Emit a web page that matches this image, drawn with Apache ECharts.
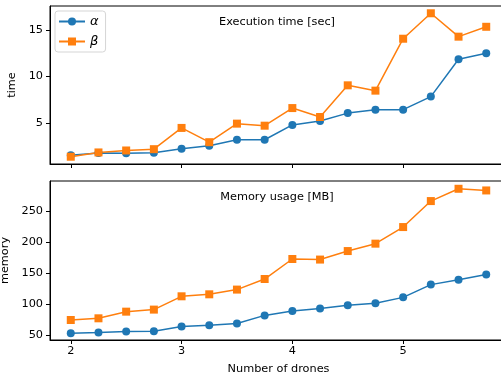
<!DOCTYPE html>
<html><head><meta charset="utf-8">
<script src="https://cdn.jsdelivr.net/npm/echarts@6/dist/echarts.min.js"></script>
<style>html,body{margin:0;padding:0;background:#fff}#c{width:501px;height:377px}</style>
</head><body><div id="c"></div>
<script>
const drones = [2, 2.25, 2.5, 2.75, 3, 3.25, 3.5, 3.75, 4, 4.25, 4.5, 4.75, 5, 5.25, 5.5, 5.75];
const timeAlpha = [1.55, 1.77, 1.76, 1.8, 2.23, 2.55, 3.19, 3.2, 4.79, 5.21, 6.06, 6.42, 6.43, 7.83, 11.84, 12.48];
const timeBeta  = [1.38, 1.84, 2.05, 2.19, 4.47, 2.94, 4.93, 4.71, 6.6, 5.64, 9.04, 8.47, 14.04, 16.77, 14.26, 15.32];
const memAlpha  = [53.2, 54.3, 55.9, 56.4, 64, 66, 68.8, 82, 89, 92.9, 98.2, 101.4, 111, 131.5, 139.5, 147.6];
const memBeta   = [74.6, 77.3, 88, 91.3, 112.7, 115.9, 123.5, 140.5, 172.7, 171.8, 185.5, 197.4, 224.1, 265.9, 285.7, 283];
const xTicks = [2, 3, 4, 5];
const timeTicks = [5, 10, 15];
const memTicks = [50, 100, 150, 200, 250];
const seriesNames = ['α', 'β'];

const blue = '#1f77b4', orange = '#ff7f0e';
const font = 'DejaVu Sans';
const fs = 11.3;
const zip = (xs, ys) => xs.map((x, i) => [x, ys[i]]);

function xAxis(idx, showLabels) {
  return {
    type: 'value', gridIndex: idx, min: 1.8125, max: 5.9375,
    axisLine: { show: true, lineStyle: { color: '#000', width: 1 } },
    axisTick: { show: true, inside: false, length: 4, customValues: xTicks, lineStyle: { color: '#000' } },
    axisLabel: { show: showLabels, customValues: xTicks, margin: 6, color: '#000', fontFamily: font, fontSize: fs },
    splitLine: { show: false },
    name: showLabels ? 'Number of drones' : '', nameLocation: 'middle', nameGap: 24,
    nameTextStyle: { color: '#000', fontFamily: font, fontSize: fs }
  };
}
function yAxis(idx, min, max, ticks, name) {
  return {
    type: 'value', gridIndex: idx, min: min, max: max,
    axisLine: { show: true, lineStyle: { color: '#000', width: 1 } },
    axisTick: { show: true, inside: false, length: 4, customValues: ticks, lineStyle: { color: '#000' } },
    axisLabel: { customValues: ticks, margin: 7, color: '#000', fontFamily: font, fontSize: fs },
    splitLine: { show: false },
    name: name, nameLocation: 'middle', nameGap: name === 'time' ? 27 : 32, nameRotate: 90,
    nameTextStyle: { color: '#000', fontFamily: font, fontSize: fs }
  };
}
function line(name, data, color, symbol, xi, yi) {
  return {
    type: 'line', name: name, data: data, xAxisIndex: xi, yAxisIndex: yi,
    symbol: symbol, symbolSize: 8,
    showAllSymbol: true,
    lineStyle: { color: color, width: 1.5 },
    itemStyle: { color: color, borderWidth: 0 },
    emphasis: { disabled: true }, animation: false
  };
}

const chart = echarts.init(document.getElementById('c'), null, { renderer: 'canvas' });
chart.setOption({
  animation: false,
  title: [
    { text: 'Execution time [sec]', left: 272, top: 12, textAlign: 'center',
      textStyle: { fontFamily: font, fontSize: fs, fontWeight: 'normal', color: '#000' } },
    { text: 'Memory usage [MB]', left: 272, top: 187, textAlign: 'center',
      textStyle: { fontFamily: font, fontSize: fs, fontWeight: 'normal', color: '#000' } }
  ],
  legend: {
    data: seriesNames, orient: 'vertical', left: 55, top: 11,
    itemWidth: 26, itemHeight: 10, itemGap: 7,
    padding: [4, 7, 4, 3],
    borderColor: '#d5d5d5', borderWidth: 1, borderRadius: 3, backgroundColor: 'rgba(255,255,255,0.8)',
    textStyle: { fontFamily: font, fontSize: 13, fontStyle: 'italic', color: '#000' }
  },
  grid: [
    { left: 50, top: 6, right: -6, height: 158, show: true, borderColor: '#000', borderWidth: 1, backgroundColor: 'transparent', outerBoundsMode: 'none', containLabel: false },
    { left: 50, top: 181, right: -6, height: 159, show: true, borderColor: '#000', borderWidth: 1, backgroundColor: 'transparent', outerBoundsMode: 'none', containLabel: false }
  ],
  xAxis: [xAxis(0, false), xAxis(1, true)],
  yAxis: [yAxis(0, 0.6, 17.55, timeTicks, 'time'), yAxis(1, 42.4, 298.2, memTicks, 'memory')],
  series: [
    line(seriesNames[0], zip(drones, timeAlpha), blue, 'circle', 0, 0),
    line(seriesNames[1], zip(drones, timeBeta), orange, 'rect', 0, 0),
    line(seriesNames[0], zip(drones, memAlpha), blue, 'circle', 1, 1),
    line(seriesNames[1], zip(drones, memBeta), orange, 'rect', 1, 1)
  ]
});
</script>
</body></html>
